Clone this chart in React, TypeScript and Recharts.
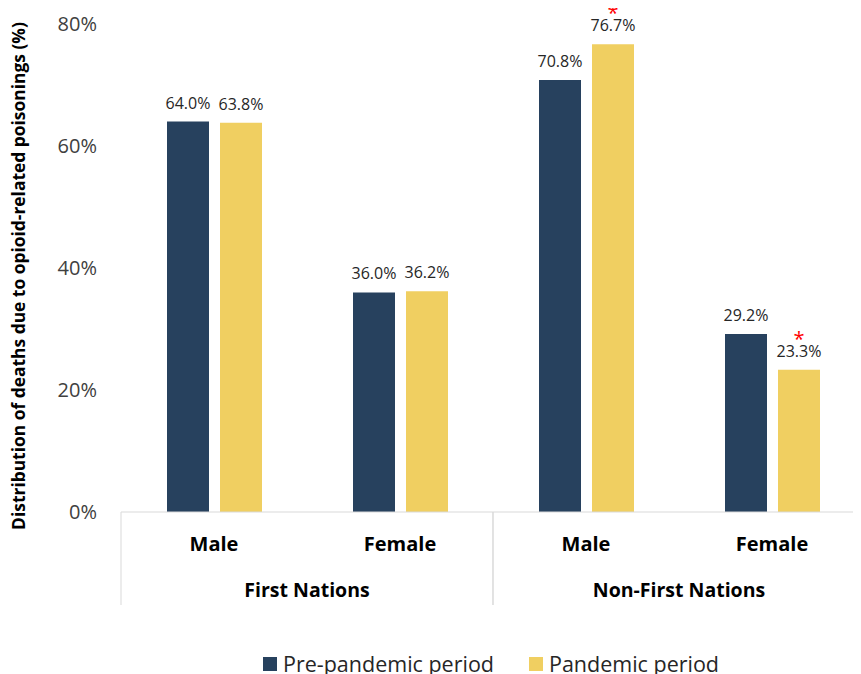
import React from 'react';
import { BarChart, Bar, XAxis, YAxis, LabelList, Legend, Label } from 'recharts';

const categoryKeys = ['fn-male', 'fn-female', 'nfn-male', 'nfn-female'];
const sexLabels = ['Male', 'Female', 'Male', 'Female'];
const groupLabels = ['First Nations', 'First Nations', 'Non-First Nations', 'Non-First Nations'];
const prePandemic = [64.0, 36.0, 70.8, 29.2];
const pandemic = [63.8, 36.2, 76.7, 23.3];
const pandemicSignificant = [false, false, true, true];
const yTicks = [0, 20, 40, 60, 80];
const seriesOrder = ['pre', 'pan'];

const data = categoryKeys.map((k, i) => ({
  key: k,
  sex: sexLabels[i],
  group: groupLabels[i],
  pre: prePandemic[i],
  pan: pandemic[i],
}));

const FONT = '"Open Sans", "Noto Sans", sans-serif';
const DARK = '#27415E';
const YELLOW = '#F0CF61';

const makeValueLabel = (sig: boolean[] | null) => (props: any) => {
  const { x, y, width, value, index } = props;
  const cx = Number(x) + Number(width) / 2;
  const top = Number(y);
  return (
    <g>
      <text x={cx} y={top - 13} textAnchor="middle" fontSize={16} fill="#262626" fontFamily={FONT}>
        {Number(value).toFixed(1)}%
      </text>
      {sig && sig[index] ? (
        <text x={cx} y={top - 24} textAnchor="middle" fontSize={20} fill="#FF0000" fontFamily={FONT}>
          *
        </text>
      ) : null}
    </g>
  );
};

const SexTick = (props: any) => {
  const { x, y, payload } = props;
  const idx = categoryKeys.indexOf(payload.value);
  return (
    <text x={x} y={y + 39} textAnchor="middle" fontSize={20} fontWeight="bold" fill="#000" fontFamily={FONT}>
      {idx >= 0 ? sexLabels[idx] : payload.value}
    </text>
  );
};

const GroupTick = (props: any) => {
  const { x, y, payload } = props;
  const half = payload && payload.offset ? payload.offset : 186;
  return (
    <g>
      <line x1={x - half} x2={x - half} y1={y - 50} y2={y + 43} stroke="#d9d9d9" strokeWidth={1} />
      <line x1={x + half} x2={x + half} y1={y - 50} y2={y + 43} stroke="#d9d9d9" strokeWidth={1} />
      <text x={x} y={y + 35} textAnchor="middle" fontSize={19.5} fontWeight="bold" fill="#000" fontFamily={FONT}>
        {payload.value}
      </text>
    </g>
  );
};

const YLabel = (props: any) => {
  const vb = props.viewBox || { x: 0, y: 24, width: 121, height: 488 };
  const cx = 18;
  const cy = vb.y + vb.height / 2 + 8;
  return (
    <text
      x={cx}
      y={cy}
      transform={`rotate(-90, ${cx}, ${cy})`}
      textAnchor="middle"
      dominantBaseline="central"
      fontSize={17.4}
      fontWeight="bold"
      fill="#000"
      fontFamily={FONT}
    >
      Distribution of deaths due to opioid-related poisonings (%)
    </text>
  );
};

const renderLegend = (props: any) => {
  const payload = [...(props.payload || [])].sort(
    (a: any, b: any) => seriesOrder.indexOf(a.dataKey) - seriesOrder.indexOf(b.dataKey)
  );
  return (
    <div
      style={{
        height: 69,
        paddingTop: 45,
        paddingLeft: 263,
        boxSizing: 'border-box',
        display: 'flex',
        alignItems: 'center',
        fontFamily: FONT,
        fontSize: 21.5,
        lineHeight: '24px',
        color: '#262626',
        whiteSpace: 'nowrap',
      }}
    >
      {payload.map((p: any, i: number) => (
        <div key={i} style={{ display: 'flex', alignItems: 'center', marginRight: 35 }}>
          <span style={{ display: 'inline-block', width: 14, height: 14, background: p.color, marginRight: 6 }} />
          <span>{p.value}</span>
        </div>
      ))}
    </div>
  );
};

export default function App() {
  return (
    <div
      style={{
        position: 'relative',
        marginLeft: -8,
        marginTop: -8,
        width: 861,
        height: 674,
        overflow: 'hidden',
        background: '#fff',
      }}
    >
      <BarChart
        width={880}
        height={676}
        data={data}
        margin={{ top: 24, right: 15, bottom: 0, left: 0 }}
        barSize={42}
        barGap={11}
        style={{ overflow: 'visible' }}
      >
        <XAxis
          xAxisId="a-sex"
          dataKey="key"
          height={50}
          tickSize={0}
          tickMargin={0}
          tickLine={false}
          axisLine={{ stroke: '#d9d9d9' }}
          tick={<SexTick />}
          interval={0}
        />
        <XAxis
          xAxisId="b-grp"
          dataKey="group"
          allowDuplicatedCategory={false}
          height={45}
          tickSize={0}
          tickMargin={0}
          tickLine={false}
          axisLine={false}
          tick={<GroupTick />}
          interval={0}
        />
        <YAxis
          width={121}
          domain={[0, 80]}
          ticks={yTicks}
          tickFormatter={(v: number) => `${v}%`}
          axisLine={false}
          tickLine={false}
          tickSize={0}
          tickMargin={24}
          tick={{ fontSize: 20, fill: '#404040', fontFamily: FONT }}
        >
          <Label content={<YLabel />} />
        </YAxis>
        <Legend verticalAlign="bottom" content={renderLegend} wrapperStyle={{ left: 0, width: 880 }} />
        <Bar xAxisId="a-sex" dataKey="pre" name="Pre-pandemic period" fill={DARK} isAnimationActive={false}>
          <LabelList dataKey="pre" content={makeValueLabel(null)} />
        </Bar>
        <Bar xAxisId="a-sex" dataKey="pan" name="Pandemic period" fill={YELLOW} isAnimationActive={false}>
          <LabelList dataKey="pan" content={makeValueLabel(pandemicSignificant)} />
        </Bar>
      </BarChart>
    </div>
  );
}
